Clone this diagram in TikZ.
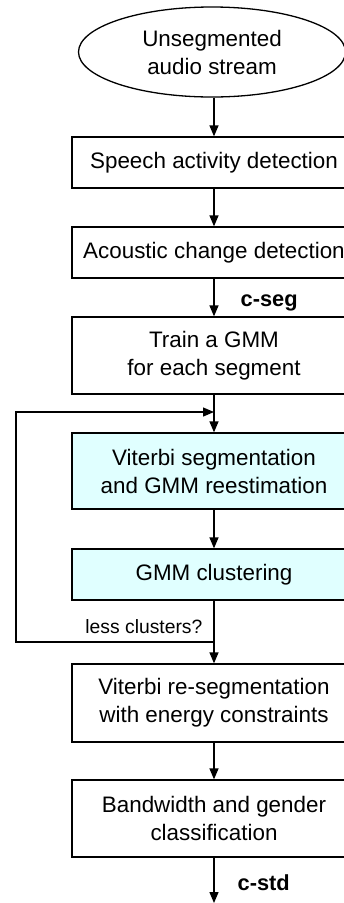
\documentclass[tikz,border=0pt]{standalone}
\usepackage{fontspec}
\setmainfont{Liberation Sans}
\usepackage{tikz}
\usetikzlibrary{shapes,calc,arrows.meta}

\definecolor{lightcy}{RGB}{224,255,255}

\begin{document}
\begin{tikzpicture}[x=1pt,y=-1pt,line width=1.3pt,
    proc/.style={draw,rectangle,minimum width=284pt,inner sep=0pt,align=center,
      font=\fontsize{22.4}{28}\selectfont},
    iter/.style={proc,fill=lightcy},
    lbl/.style={inner sep=0pt,font=\fontsize{19.3}{23}\selectfont},
    tag/.style={inner sep=0pt,font=\bfseries\fontsize{21.8}{26}\selectfont},
    flow/.style={-{Triangle[length=11pt,width=9pt]}}]
    \useasboundingbox (0,0) rectangle (343,903);

    \node[draw,ellipse,minimum width=267pt,minimum height=90pt,inner sep=0pt,align=center,
      font=\fontsize{22.4}{28}\selectfont] (stream) at (212,52) {Unsegmented\\audio stream};
    \node[proc,minimum height=51pt] (sad) at (214,162.5) {Speech activity detection};
    \node[proc,minimum height=51pt] (acd) at (214,252.5) {Acoustic change detection};
    \node[proc,minimum height=77pt] (train) at (214,355.5) {Train a GMM\\for each segment};
    \node[iter,minimum height=76pt] (viterbi) at (214,471) {Viterbi segmentation\\and GMM reestimation};
    \node[iter,minimum height=51pt] (clust) at (214,574.5) {GMM clustering};
    \node[proc,minimum height=78pt] (reseg) at (214,703) {Viterbi re-segmentation\\with energy constraints};
    \node[proc,minimum height=77pt] (bwg) at (214,818.5) {Bandwidth and gender\\classification};

    \coordinate (looptop) at (214,412);
    \coordinate (loopin) at (16,412);
    \coordinate (loopout) at (16,642);
    \coordinate (merge) at (214,642);
    \coordinate (out) at (214,903);

    \draw[flow] (sad.north |- stream.south) -- (sad.north);
    \draw[flow] (sad) -- (acd);
    \draw[flow] (acd) -- (train);
    \draw[flow] (train) -- (viterbi);
    \draw[flow] (viterbi) -- (clust);
    \draw[flow] (clust) -- (reseg);
    \draw[flow] (reseg) -- (bwg);
    \draw[flow] (bwg) -- (out);

    % loop back for fewer clusters
    \draw[flow] (merge) -- (loopout) -- (loopin) -- (looptop);

    \node[lbl,anchor=base east] (less) at (203,633) {less clusters?};
    \node[tag,anchor=base west] (cseg) at (240,306) {c-seg};
    \node[tag,anchor=base west] (cstd) at (237,890) {c-std};
\end{tikzpicture}
\end{document}
